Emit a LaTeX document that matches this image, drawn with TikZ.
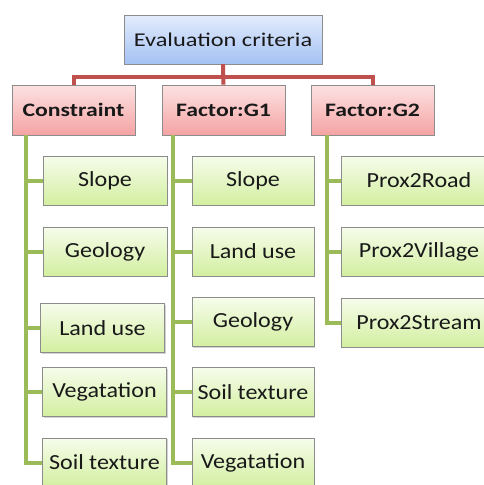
\documentclass[tikz,border=0pt]{standalone}
\usepackage{fontspec}
\setmainfont{Carlito}
\newfontfamily\leaffont{Carlito}[FakeStretch=1.12]
\newfontfamily\headfont{Carlito}[FakeStretch=1.25]
\usetikzlibrary{shadows}
\definecolor{linkred}{HTML}{C0504D}
\definecolor{linkgreen}{HTML}{9BBB59}
\definecolor{boxgray}{HTML}{8C8C8C}
\definecolor{roottop}{HTML}{E3ECFC}
\definecolor{rootbot}{HTML}{A4C2F4}
\definecolor{grouptop}{HTML}{FDE2E2}
\definecolor{groupbot}{HTML}{F5A3A3}
\definecolor{leaftop}{HTML}{F6FCEB}
\definecolor{leafbot}{HTML}{D3EFA0}
\tikzset{
  critbox/.style={draw=boxgray, line width=0.8pt, inner sep=0pt,
    drop shadow={shadow xshift=1.2pt, shadow yshift=-1.2pt, opacity=0.35},
    text=black!90},
  rootbox/.style={critbox, top color=roottop, bottom color=rootbot,
    minimum width=198pt, minimum height=49pt, font=\headfont\fontsize{19.5}{22}\selectfont},
  groupbox/.style={critbox, top color=grouptop, bottom color=groupbot,
    minimum width=123pt, minimum height=50pt, font=\headfont\bfseries\fontsize{19}{22}\selectfont},
  leafbox/.style={critbox, top color=leaftop, bottom color=leafbot,
    minimum height=49pt, font=\leaffont\fontsize{21.5}{24}\selectfont},
  redlink/.style={draw=linkred, line width=4pt},
  greenlink/.style={draw=linkgreen, line width=4pt}
}
\begin{document}
\begin{tikzpicture}[x=1pt, y=-1pt]
  \useasboundingbox (0,0) rectangle (484,485);

  % 最上位の評価基準
  \node[rootbox] (root) at (223,39.5) {Evaluation criteria};

  % 制約と因子グループ
  \node[groupbox] (con) at (73.5,110) {Constraint};
  \node[groupbox] (g1) at (223.5,110) {Factor:G1};
  \node[groupbox] (g2) at (372.5,110) {Factor:G2};

  \draw[redlink] (root.south) -- ++(0,13) -| (con.north);
  \draw[redlink] (root.south) -- ++(0,13) -| (g2.north);
  \draw[redlink] (root.south) -- (g1.north);

  % Constraint の項目
  \node[leafbox, minimum width=124pt] (conslope) at (105,180.5) {Slope};
  \node[leafbox, minimum width=124pt] (congeo) at (105,251.5) {Geology};
  \node[leafbox, minimum width=124pt] (conland) at (102.5,328) {Land use};
  \node[leafbox, minimum width=124pt] (conveg) at (104.5,392) {Vegatation};
  \node[leafbox, minimum width=124pt] (consoil) at (104.5,462.5) {Soil texture};

  % Factor:G1 の項目
  \node[leafbox, minimum width=122pt] (gaslope) at (253,180.5) {Slope};
  \node[leafbox, minimum width=122pt] (galand) at (253,251.5) {Land use};
  \node[leafbox, minimum width=122pt] (gageo) at (253,322) {Geology};
  \node[leafbox, minimum width=122pt] (gasoil) at (253,392) {Soil texture};
  \node[leafbox, minimum width=122pt] (gaveg) at (253,462.5) {Vegatation};

  % Factor:G2 の項目
  \node[leafbox, minimum width=156pt] (gbroad) at (419,180.5) {Prox2Road};
  \node[leafbox, minimum width=156pt] (gbvil) at (419,251.5) {Prox2Village};
  \node[leafbox, minimum width=156pt] (gbstream) at (419,322.5) {Prox2Stream};

  % 枝線
  \foreach \leaf in {conslope, congeo, conland, conveg, consoil}
    \draw[greenlink] ([xshift=14pt]con.south west) |- (\leaf.west);
  \foreach \leaf in {gaslope, galand, gageo, gasoil, gaveg}
    \draw[greenlink] ([xshift=11pt]g1.south west) |- (\leaf.west);
  \foreach \leaf in {gbroad, gbvil, gbstream}
    \draw[greenlink] ([xshift=16pt]g2.south west) |- (\leaf.west);
\end{tikzpicture}
\end{document}
